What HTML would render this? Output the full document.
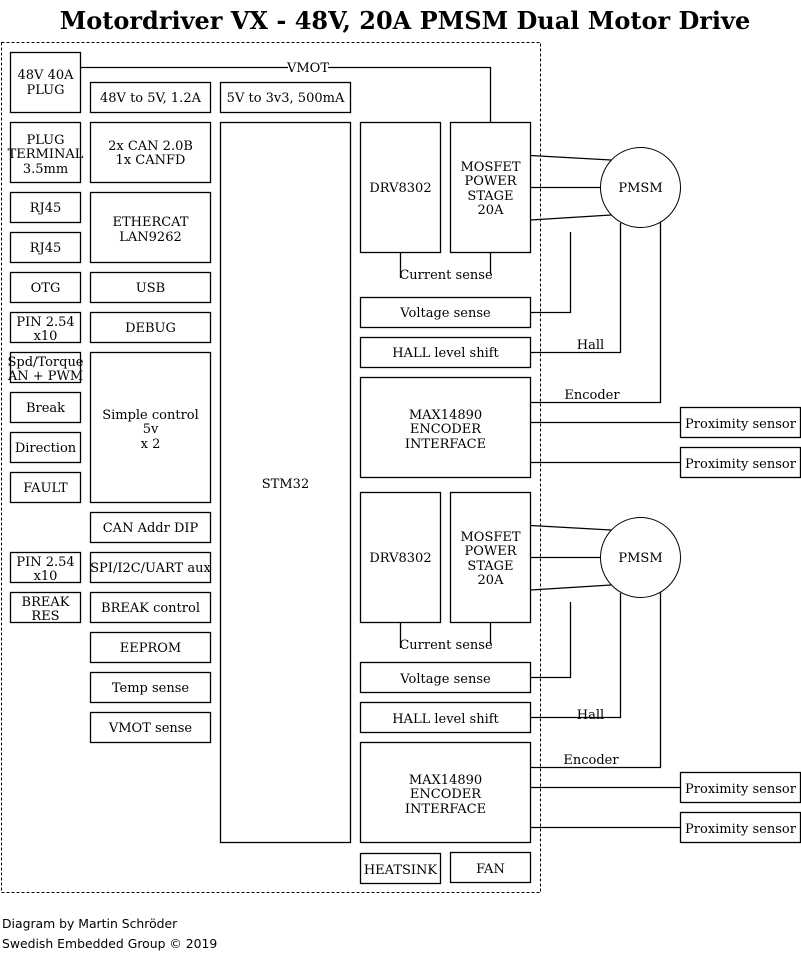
<!DOCTYPE html>
<html><head><meta charset="utf-8"><style>
html,body{margin:0;padding:0;background:#fff;}
svg text{font-family:"DejaVu Serif","Liberation Serif",serif;font-size:13px;fill:#000;}
</style></head><body>
<svg width="801" height="953" viewBox="0 0 801 953" xmlns="http://www.w3.org/2000/svg">
<text x="405" y="29" text-anchor="middle" style="font-size:24px;font-weight:bold">Motordriver VX - 48V, 20A PMSM Dual Motor Drive</text>
<rect x="1.5" y="42.5" width="539" height="850" fill="none" stroke="#000" stroke-dasharray="3,2"/>
<g fill="none" stroke="#000" stroke-width="1.3">
<rect x="10.5" y="52.5" width="70" height="60"/>
<rect x="10.5" y="122.5" width="70" height="60"/>
<rect x="10.5" y="192.5" width="70" height="30"/>
<rect x="10.5" y="232.5" width="70" height="30"/>
<rect x="10.5" y="272.5" width="70" height="30"/>
<rect x="10.5" y="312.5" width="70" height="30"/>
<rect x="10.5" y="352.5" width="70" height="30"/>
<rect x="10.5" y="392.5" width="70" height="30"/>
<rect x="10.5" y="432.5" width="70" height="30"/>
<rect x="10.5" y="472.5" width="70" height="30"/>
<rect x="10.5" y="552.5" width="70" height="30"/>
<rect x="10.5" y="592.5" width="70" height="30"/>
<rect x="90.5" y="82.5" width="120" height="30"/>
<rect x="90.5" y="122.5" width="120" height="60"/>
<rect x="90.5" y="192.5" width="120" height="70"/>
<rect x="90.5" y="272.5" width="120" height="30"/>
<rect x="90.5" y="312.5" width="120" height="30"/>
<rect x="90.5" y="352.5" width="120" height="150"/>
<rect x="90.5" y="512.5" width="120" height="30"/>
<rect x="90.5" y="552.5" width="120" height="30"/>
<rect x="90.5" y="592.5" width="120" height="30"/>
<rect x="90.5" y="632.5" width="120" height="30"/>
<rect x="90.5" y="672.5" width="120" height="30"/>
<rect x="90.5" y="712.5" width="120" height="30"/>
<rect x="220.5" y="82.5" width="130" height="30"/>
<rect x="220.5" y="122.5" width="130" height="720"/>
<polyline points="80.5,67.5 490.5,67.5 490.5,122.5"/>
<rect x="360.5" y="122.5" width="80" height="130"/>
<rect x="450.5" y="122.5" width="80" height="130"/>
<line x1="400.5" y1="252" x2="400.5" y2="278"/>
<line x1="490.5" y1="252" x2="490.5" y2="274"/>
<rect x="360.5" y="297.5" width="170" height="30"/>
<rect x="360.5" y="337.5" width="170" height="30"/>
<rect x="360.5" y="377.5" width="170" height="100"/>
<polyline points="530.5,312.5 570.5,312.5 570.5,232"/>
<polyline points="530.5,352.5 620.5,352.5 620.5,223"/>
<polyline points="530.5,402.5 660.5,402.5 660.5,222"/>
<line x1="530.5" y1="422.5" x2="680.5" y2="422.5"/>
<line x1="530.5" y1="462.5" x2="680.5" y2="462.5"/>
<rect x="680.5" y="407.5" width="120" height="30"/>
<rect x="680.5" y="447.5" width="120" height="30"/>
<circle cx="640.5" cy="187.5" r="40" stroke-width="1"/>
<line x1="530.5" y1="155.5" x2="611" y2="160"/>
<line x1="530.5" y1="187.5" x2="600.5" y2="187.5"/>
<line x1="530.5" y1="220" x2="611" y2="215"/>
<rect x="360.5" y="492.5" width="80" height="130"/>
<rect x="450.5" y="492.5" width="80" height="130"/>
<line x1="400.5" y1="622" x2="400.5" y2="648"/>
<line x1="490.5" y1="622" x2="490.5" y2="644"/>
<rect x="360.5" y="662.5" width="170" height="30"/>
<rect x="360.5" y="702.5" width="170" height="30"/>
<rect x="360.5" y="742.5" width="170" height="100"/>
<polyline points="530.5,677.5 570.5,677.5 570.5,602"/>
<polyline points="530.5,717.5 620.5,717.5 620.5,593"/>
<polyline points="530.5,767.5 660.5,767.5 660.5,592"/>
<line x1="530.5" y1="787.5" x2="680.5" y2="787.5"/>
<line x1="530.5" y1="827.5" x2="680.5" y2="827.5"/>
<rect x="680.5" y="772.5" width="120" height="30"/>
<rect x="680.5" y="812.5" width="120" height="30"/>
<circle cx="640.5" cy="557.5" r="40" stroke-width="1"/>
<line x1="530.5" y1="525.5" x2="611" y2="530"/>
<line x1="530.5" y1="557.5" x2="600.5" y2="557.5"/>
<line x1="530.5" y1="590" x2="611" y2="585"/>
<rect x="360.5" y="853.5" width="80" height="30"/>
<rect x="450.5" y="852.5" width="80" height="30"/>
</g>
<rect x="288" y="60" width="40" height="14" fill="#fff"/>
<g text-anchor="middle">
<text x="308" y="72">VMOT</text>
<text x="45.5" y="79">48V 40A</text><text x="45.5" y="94">PLUG</text>
<text x="45.5" y="144">PLUG</text><text x="45.5" y="158">TERMINAL</text><text x="45.5" y="173">3.5mm</text>
<text x="45.5" y="212">RJ45</text>
<text x="45.5" y="252">RJ45</text>
<text x="45.5" y="292">OTG</text>
<text x="45.5" y="326">PIN 2.54</text><text x="45.5" y="340">x10</text>
<text x="45.5" y="366">Spd/Torque</text><text x="45.5" y="380">AN + PWM</text>
<text x="45.5" y="412">Break</text>
<text x="45.5" y="452">Direction</text>
<text x="45.5" y="492">FAULT</text>
<text x="45.5" y="566">PIN 2.54</text><text x="45.5" y="580">x10</text>
<text x="45.5" y="606">BREAK</text><text x="45.5" y="620">RES</text>
<text x="150.5" y="102">48V to 5V, 1.2A</text>
<text x="150.5" y="150">2x CAN 2.0B</text><text x="150.5" y="164">1x CANFD</text>
<text x="150.5" y="226">ETHERCAT</text><text x="150.5" y="241">LAN9262</text>
<text x="150.5" y="292">USB</text>
<text x="150.5" y="332">DEBUG</text>
<text x="150.5" y="419">Simple control</text><text x="150.5" y="433">5v</text><text x="150.5" y="448">x 2</text>
<text x="150.5" y="532">CAN Addr DIP</text>
<text x="150.5" y="572">SPI/I2C/UART aux</text>
<text x="150.5" y="612">BREAK control</text>
<text x="150.5" y="652">EEPROM</text>
<text x="150.5" y="692">Temp sense</text>
<text x="150.5" y="732">VMOT sense</text>
<text x="285.5" y="102">5V to 3v3, 500mA</text>
<text x="285.5" y="488">STM32</text>
<text x="400.5" y="192">DRV8302</text>
<text x="490.5" y="171">MOSFET</text><text x="490.5" y="185">POWER</text><text x="490.5" y="200">STAGE</text><text x="490.5" y="214">20A</text>
<text x="446" y="279">Current sense</text>
<text x="445.5" y="317">Voltage sense</text>
<text x="445.5" y="357">HALL level shift</text>
<text x="445.5" y="419">MAX14890</text><text x="445.5" y="433">ENCODER</text><text x="445.5" y="448">INTERFACE</text>
<text x="640.5" y="192">PMSM</text>
<text x="590.5" y="349">Hall</text>
<text x="592" y="399">Encoder</text>
<text x="740.5" y="428">Proximity sensor</text>
<text x="740.5" y="468">Proximity sensor</text>
<text x="400.5" y="562">DRV8302</text>
<text x="490.5" y="541">MOSFET</text><text x="490.5" y="555">POWER</text><text x="490.5" y="570">STAGE</text><text x="490.5" y="584">20A</text>
<text x="446" y="649">Current sense</text>
<text x="445.5" y="683">Voltage sense</text>
<text x="445.5" y="723">HALL level shift</text>
<text x="445.5" y="784">MAX14890</text><text x="445.5" y="798">ENCODER</text><text x="445.5" y="813">INTERFACE</text>
<text x="640.5" y="562">PMSM</text>
<text x="590.5" y="719">Hall</text>
<text x="591" y="764">Encoder</text>
<text x="740.5" y="793">Proximity sensor</text>
<text x="740.5" y="833">Proximity sensor</text>
<text x="400.5" y="874">HEATSINK</text>
<text x="490.5" y="873">FAN</text>
</g>
<text x="2" y="928" style="font-family:'DejaVu Sans','Liberation Sans',sans-serif;font-size:12.4px">Diagram by Martin Schröder</text>
<text x="2" y="948" style="font-family:'DejaVu Sans','Liberation Sans',sans-serif;font-size:12.4px">Swedish Embedded Group © 2019</text>
</svg>
</body></html>
